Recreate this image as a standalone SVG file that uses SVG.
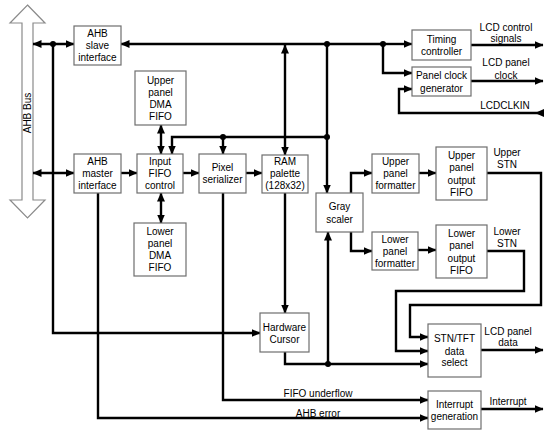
<svg xmlns="http://www.w3.org/2000/svg" width="550" height="432" viewBox="0 0 550 432">
<style>
.box{fill:#fff;stroke:#6e6e6e;stroke-width:1.2}
.t{font-family:"Liberation Sans",Arial,sans-serif;font-size:10px;fill:#000;text-anchor:middle}
.c{fill:none;stroke:#000;stroke-width:2.4;stroke-linejoin:miter}
.a{marker-end:url(#ah)}
.d{marker-start:url(#ah);marker-end:url(#ah)}
</style>
<defs>
<marker id="ah" markerUnits="userSpaceOnUse" markerWidth="9" markerHeight="8" refX="8.5" refY="4" orient="auto-start-reverse"><path d="M0,0 L9,4 L0,8 z" fill="#000"/></marker>
<marker id="ain" markerUnits="userSpaceOnUse" markerWidth="9" markerHeight="8" refX="0" refY="4" orient="auto"><path d="M0,0 L9,4 L0,8 z" fill="#000"/></marker>
</defs>
<rect width="550" height="432" fill="#fff"/>

<g id="ahb-bus">
<polygon points="27.5,5 45,23 33,23 33,200 45,200 27.5,218 10,200 22,200 22,23 10,23" fill="#fff" stroke="#8a8a8a" stroke-width="1.2"/>
<text class="t" transform="translate(31,113) rotate(-90)">AHB Bus</text>
</g>

<g id="connectors">
<path class="c d" d="M33,44 L74,44"/>
<path class="c d" d="M33,173 L74,173"/>
<path class="c a" d="M53,44 L53,333 L260,333"/>
<path class="c a" d="M98,193 L98,418 L428,418"/>
<path class="c a" d="M121,173 L137,173"/>
<path class="c d" d="M161,125 L161,154"/>
<path class="c d" d="M161,193 L161,223"/>
<path class="c a" d="M183,173 L199,173"/>
<path class="c a" d="M246,173 L262,173"/>
<path class="c a" d="M383,44 L121,44"/>
<path class="c a" d="M383,44 L412,44"/>
<path class="c a" d="M383,44 L383,73 L412,73"/>
<path class="c d" d="M285,45 L285,155"/>
<path class="c a" d="M327,44 L327,193"/>
<path class="c a" d="M327,137 L172,137 L172,154"/>
<path class="c a" d="M223,137 L223,154"/>
<path class="c a" d="M285,193 L285,313"/>
<path class="c a" d="M223,193 L223,400 L428,400"/>
<path class="c a" d="M285,352 L285,364 L428,364"/>
<path class="c a" d="M328,364 L328,232"/>
<path class="c a" d="M351,193 L351,173 L372,173"/>
<path class="c a" d="M351,232 L351,251 L372,251"/>
<path class="c a" d="M419,173 L436,173"/>
<path class="c a" d="M418,250 L436,250"/>
<path class="c a" d="M487,173 L541,173 L541,305 L410,305 L410,337 L428,337"/>
<path class="c a" d="M487,251 L524,251 L524,291 L396,291 L396,351 L428,351"/>
<path class="c a" d="M471,45 L543,45"/>
<path class="c a" d="M471,81 L543,81"/>
<path class="c a" d="M544,113 L399,113 L399,89 L412,89" style="marker-start:url(#ain)"/>
<path class="c a" d="M481,350 L543,350"/>
<path class="c a" d="M481,409 L543,409"/>
<g fill="#000">
<circle cx="53" cy="44" r="3"/>
<circle cx="327" cy="44" r="3"/>
<circle cx="383" cy="44" r="3"/>
<circle cx="223" cy="137" r="3"/>
<circle cx="327" cy="137" r="3"/>
<circle cx="328" cy="364" r="3"/>
</g>
</g>

<g id="ahb-slave">
<rect class="box" x="74" y="26" width="47" height="39"/>
<text class="t" x="97.5" y="37">AHB</text>
<text class="t" x="97.5" y="49">slave</text>
<text class="t" x="97.5" y="61">interface</text>
</g>
<g id="ahb-master">
<rect class="box" x="74" y="154" width="47" height="39"/>
<text class="t" x="97.5" y="165">AHB</text>
<text class="t" x="97.5" y="177">master</text>
<text class="t" x="97.5" y="189">interface</text>
</g>
<g id="upper-dma">
<rect class="box" x="135" y="71" width="51" height="54"/>
<text class="t" x="160.5" y="84">Upper</text>
<text class="t" x="160.5" y="96">panel</text>
<text class="t" x="160.5" y="108">DMA</text>
<text class="t" x="160.5" y="120">FIFO</text>
</g>
<g id="input-fifo">
<rect class="box" x="137" y="154" width="46" height="39"/>
<text class="t" x="160" y="165">Input</text>
<text class="t" x="160" y="177">FIFO</text>
<text class="t" x="160" y="189">control</text>
</g>
<g id="lower-dma">
<rect class="box" x="134" y="223" width="52" height="53"/>
<text class="t" x="160" y="235">Lower</text>
<text class="t" x="160" y="247">panel</text>
<text class="t" x="160" y="259">DMA</text>
<text class="t" x="160" y="271">FIFO</text>
</g>
<g id="pixel-serializer">
<rect class="box" x="199" y="154" width="47" height="39"/>
<text class="t" x="222.5" y="171">Pixel</text>
<text class="t" x="222.5" y="183">serializer</text>
</g>
<g id="ram-palette">
<rect class="box" x="262" y="155" width="46" height="38"/>
<text class="t" x="285" y="165">RAM</text>
<text class="t" x="285" y="177">palette</text>
<text class="t" x="285" y="189">(128x32)</text>
</g>
<g id="gray-scaler">
<rect class="box" x="316" y="193" width="47" height="39"/>
<text class="t" x="339.5" y="210">Gray</text>
<text class="t" x="339.5" y="223">scaler</text>
</g>
<g id="hardware-cursor">
<rect class="box" x="260" y="313" width="49" height="39"/>
<text class="t" x="284.5" y="331">Hardware</text>
<text class="t" x="284.5" y="343">Cursor</text>
</g>
<g id="timing-controller">
<rect class="box" x="412" y="30" width="59" height="30"/>
<text class="t" x="441.5" y="43">Timing</text>
<text class="t" x="441.5" y="55">controller</text>
</g>
<g id="panel-clock">
<rect class="box" x="412" y="67" width="59" height="29"/>
<text class="t" x="441.5" y="79">Panel clock</text>
<text class="t" x="441.5" y="92">generator</text>
</g>
<g id="upper-formatter">
<rect class="box" x="372" y="154" width="47" height="39"/>
<text class="t" x="395.5" y="165">Upper</text>
<text class="t" x="395.5" y="177">panel</text>
<text class="t" x="395.5" y="189">formatter</text>
</g>
<g id="upper-output-fifo">
<rect class="box" x="436" y="147" width="51" height="53"/>
<text class="t" x="461.5" y="159">Upper</text>
<text class="t" x="461.5" y="171">panel</text>
<text class="t" x="461.5" y="184">output</text>
<text class="t" x="461.5" y="196">FIFO</text>
</g>
<g id="lower-formatter">
<rect class="box" x="372" y="232" width="46" height="38"/>
<text class="t" x="395" y="243">Lower</text>
<text class="t" x="395" y="255">panel</text>
<text class="t" x="395" y="267">formatter</text>
</g>
<g id="lower-output-fifo">
<rect class="box" x="436" y="225" width="51" height="53"/>
<text class="t" x="461.5" y="237">Lower</text>
<text class="t" x="461.5" y="249">panel</text>
<text class="t" x="461.5" y="262">output</text>
<text class="t" x="461.5" y="274">FIFO</text>
</g>
<g id="stn-tft-select">
<rect class="box" x="428" y="324" width="53" height="53"/>
<text class="t" x="454.5" y="342">STN/TFT</text>
<text class="t" x="454.5" y="355">data</text>
<text class="t" x="454.5" y="366">select</text>
</g>
<g id="interrupt-generation">
<rect class="box" x="428" y="391" width="53" height="38"/>
<text class="t" x="454.5" y="408">Interrupt</text>
<text class="t" x="454.5" y="420">generation</text>
</g>

<g id="labels">
<text class="t" x="506" y="31">LCD control</text>
<text class="t" x="506" y="42">signals</text>
<text class="t" x="506" y="66">LCD panel</text>
<text class="t" x="506" y="79">clock</text>
<text class="t" x="505" y="109">LCDCLKIN</text>
<text class="t" x="507" y="156">Upper</text>
<text class="t" x="507" y="168">STN</text>
<text class="t" x="507" y="235">Lower</text>
<text class="t" x="507" y="247">STN</text>
<text class="t" x="508" y="335">LCD panel</text>
<text class="t" x="508" y="346">data</text>
<text class="t" x="508" y="405">Interrupt</text>
<text class="t" x="318" y="397">FIFO underflow</text>
<text class="t" x="318" y="417">AHB error</text>
</g>
</svg>
